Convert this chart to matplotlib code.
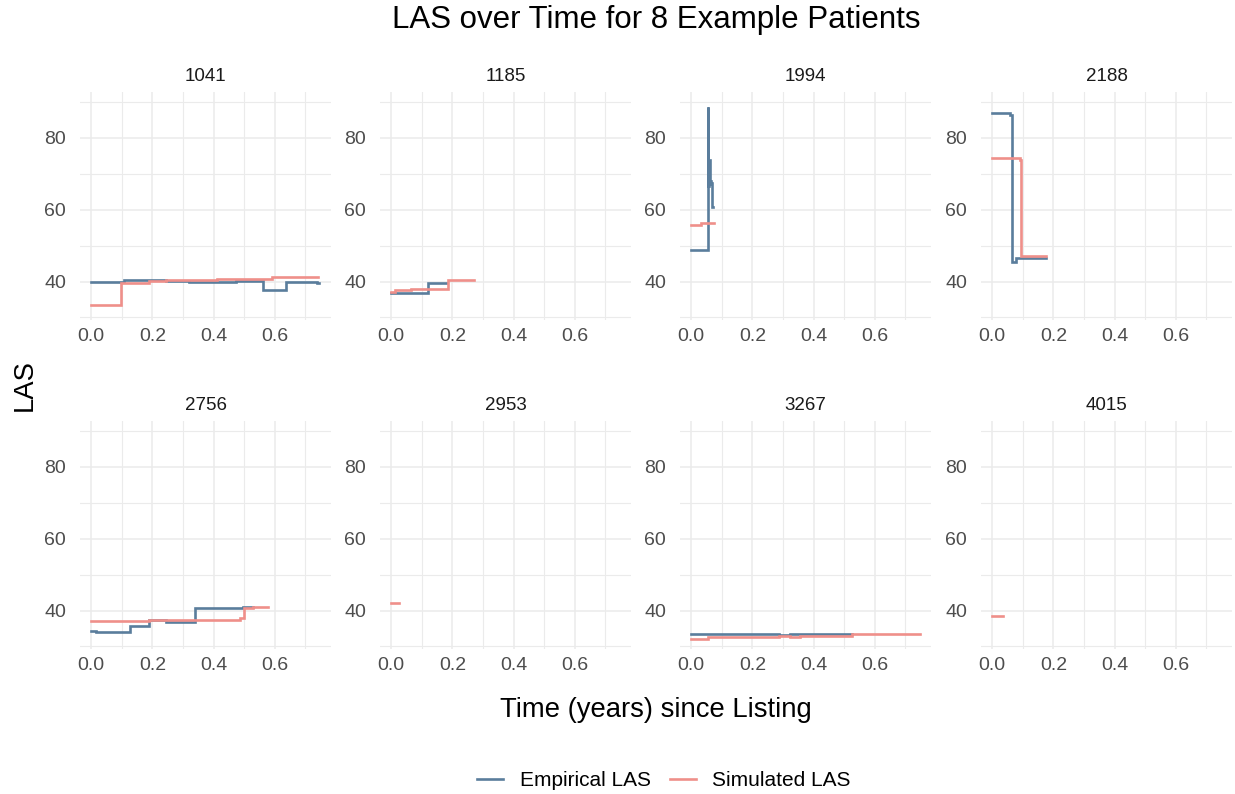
import numpy as np
import matplotlib
matplotlib.use("Agg")
import matplotlib.pyplot as plt
from matplotlib.lines import Line2D

plt.rcParams["font.family"] = ["Liberation Sans", "DejaVu Sans"]

# Patient ids (facet order)
patients = ["1041", "1185", "1994", "2188", "2756", "2953", "3267", "4015"]

# Empirical LAS: step change times (years) and values; last time is end of follow-up
emp_t = {
    "1041": [0.0, 0.108, 0.245, 0.32, 0.474, 0.562, 0.638, 0.737, 0.745],
    "1185": [0.0, 0.121, 0.181],
    "1994": [0.0, 0.053, 0.056, 0.058, 0.060, 0.062, 0.066, 0.069, 0.071],
    "2188": [0.0, 0.058, 0.066, 0.078, 0.174],
    "2756": [0.0, 0.015, 0.125, 0.19, 0.245, 0.338, 0.496, 0.53],
    "2953": [],
    "3267": [0.0, 0.286, 0.324, 0.527],
    "4015": [],
}
emp_v = {
    "1041": [40.0, 40.4, 40.3, 39.9, 40.3, 37.7, 40.0, 39.5],
    "1185": [36.7, 39.5],
    "1994": [48.8, 88.5, 66.5, 74.0, 67.0, 68.0, 67.5, 60.7],
    "2188": [86.9, 86.5, 45.5, 46.6],
    "2756": [34.4, 33.9, 35.8, 37.4, 36.7, 40.6, 41.0],
    "2953": [],
    "3267": [33.5, 33.3, 33.5],
    "4015": [],
}

# Simulated LAS
sim_t = {
    "1041": [0.0, 0.097, 0.19, 0.245, 0.41, 0.59, 0.74],
    "1185": [0.0, 0.011, 0.066, 0.184, 0.269],
    "1994": [0.0, 0.033, 0.074],
    "2188": [0.0, 0.089, 0.094, 0.174],
    "2756": [0.0, 0.19, 0.485, 0.50, 0.53, 0.578],
    "2953": [0.0, 0.025],
    "3267": [0.0, 0.055, 0.286, 0.324, 0.357, 0.527, 0.747],
    "4015": [0.0, 0.036],
}
sim_v = {
    "1041": [33.4, 39.6, 40.1, 40.4, 40.8, 41.2],
    "1185": [37.1, 37.6, 38.0, 40.4],
    "1994": [55.7, 56.2],
    "2188": [74.3, 74.0, 47.1],
    "2756": [37.0, 37.5, 38.0, 40.6, 41.0],
    "2953": [42.2],
    "3267": [32.1, 32.6, 33.0, 32.6, 33.0, 33.5],
    "4015": [38.6],
}

EMP_COL = "#5A7D9C"
SIM_COL = "#EF8F8A"
GRID = "#EBEBEB"
LW = 1.9

fig = plt.figure(figsize=(12.35, 7.94), dpi=100)
W, H = 1235, 794

lefts = [80, 380, 680, 981]
tops = [92, 421]
pw, ph = 251, 228
# title and x label are centred over the panel block
cx = (lefts[0] + lefts[-1] + pw) / 2 / W


def draw(ax, t, v, col):
    if len(t) == 0:
        return
    ax.step(t, list(v) + [v[-1]], where="post", color=col, lw=LW,
            solid_joinstyle="miter")


for i, p in enumerate(patients):
    r, c = divmod(i, 4)
    ax = fig.add_axes([lefts[c] / W, 1 - (tops[r] + ph) / H, pw / W, ph / H])
    draw(ax, emp_t[p], emp_v[p], EMP_COL)
    draw(ax, sim_t[p], sim_v[p], SIM_COL)
    ax.set_xlim(-0.037, 0.784)
    ax.set_ylim(29.3, 92.8)
    ax.set_xticks([0.0, 0.2, 0.4, 0.6])
    ax.set_xticklabels(["0.0", "0.2", "0.4", "0.6"])
    ax.set_xticks([0.1, 0.3, 0.5, 0.7], minor=True)
    ax.set_yticks([40, 60, 80])
    ax.set_yticks([30, 50, 70, 90], minor=True)
    ax.grid(True, which="major", color=GRID, lw=1.1)
    ax.grid(True, which="minor", color=GRID, lw=0.8)
    ax.set_axisbelow(True)
    for s in ax.spines.values():
        s.set_visible(False)
    ax.tick_params(which="both", length=0, labelsize=14, labelcolor="#4D4D4D")
    ax.tick_params(axis="x", pad=6)
    ax.tick_params(axis="y", pad=10)
    ax.set_title(p, fontsize=13.5, color="#1A1A1A", pad=8)

fig.text(cx, 1 - 20 / H, "LAS over Time for 8 Example Patients", ha="center",
         va="center", fontsize=22.5, color="black")
fig.text(cx, 1 - 710 / H, "Time (years) since Listing", ha="center",
         va="center", fontsize=19.8, color="black")
fig.text(25 / W, 1 - 385 / H, "LAS", ha="center", va="center",
         rotation=90, fontsize=19.8, color="black")

handles = [Line2D([], [], color=EMP_COL, lw=LW), Line2D([], [], color=SIM_COL, lw=LW)]
fig.legend(handles, ["Empirical LAS", "Simulated LAS"], loc="center",
           bbox_to_anchor=(664 / W, 1 - 781 / H), ncol=2, frameon=False,
           fontsize=15, handlelength=1.25, columnspacing=0.9, handletextpad=0.8)

fig.savefig("out.png", dpi=100, facecolor="white")
